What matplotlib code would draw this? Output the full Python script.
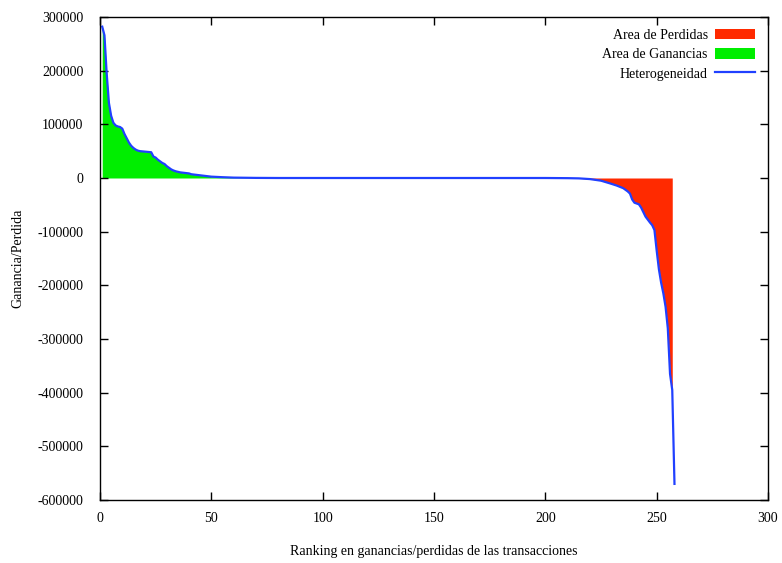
#!/usr/bin/env python3

# Ganancias/perdidas ordenadas por ranking, estilo gnuplot

import numpy as np
import matplotlib.pyplot as plt

plt.rcParams['font.family'] = ['Liberation Serif', 'DejaVu Serif']
plt.rcParams['font.size'] = 10
plt.rcParams['axes.unicode_minus'] = False

# ranking de cada punto (puntos donde cambia la curva)
ranks = np.array([1, 2, 3, 4, 5, 6, 7, 8, 9, 10, 11, 12, 13, 14, 15, 16, 17, 18,
                  23, 24, 25, 26, 27, 28, 29, 30, 31, 32, 33, 34, 35, 36, 38, 40,
                  41, 43, 45, 48, 50, 55, 60, 70, 80,
                  200, 210, 215, 220, 225, 229, 232, 235, 237, 238, 239, 240, 242,
                  243, 245, 247, 248, 249, 250, 251, 252, 253, 254, 255, 256, 257, 258])

# ganancia/perdida de cada transaccion
values = np.array([282000, 266000, 195000, 140000, 116000, 103000, 98000, 96000,
                   95000, 92000, 82000, 74000, 66000, 60000, 56000, 53000, 51000,
                   50000, 48000, 40000, 38000, 34000, 31000, 28000, 26000, 22000,
                   19000, 16000, 14000, 12500, 11500, 10500, 9500, 8500, 7000,
                   6000, 5000, 3500, 2500, 1500, 700, 200, 0,
                   0, -300, -700, -2000, -5000, -10000, -14000, -19000, -25000,
                   -29000, -40000, -46000, -49000, -55000, -72000, -83000, -88000,
                   -97000, -135000, -170000, -195000, -215000, -240000, -280000,
                   -365000, -395000, -570000])

labels = ['Area de Perdidas', 'Area de Ganancias', 'Heterogeneidad']
colors = ['#ff2a00', '#00ee00', '#2040ff']

fig = plt.figure(figsize=(7.82, 5.63), dpi=100)
ax = fig.add_axes([100/782, 1 - 500/563, 668/782, 483/563])

# area de perdidas (sin el ultimo punto)
red = ax.fill_between(ranks[:-1], values[:-1], 0, where=values[:-1] <= 0,
                      interpolate=True, color=colors[0], lw=0, label=labels[0])
green = ax.fill_between(ranks, values, 0, where=values >= 0,
                        interpolate=True, color=colors[1], lw=0, label=labels[1])
line, = ax.plot(ranks, values, color=colors[2], lw=1.6, label=labels[2])

ax.set_xlim(0, 300)
ax.set_ylim(-600000, 300000)
ax.set_xticks(np.arange(0, 301, 50))
ax.set_yticks(np.arange(-600000, 300001, 100000))
ax.tick_params(direction='in', length=6, width=1, top=True, right=True,
               labelsize=10)
ax.tick_params(axis='x', pad=9)
ax.tick_params(axis='y', pad=12)
for s in ax.spines.values():
    s.set_linewidth(1)

ax.set_xlabel('Ranking en ganancias/perdidas de las transacciones', labelpad=14)
ax.set_ylabel('Ganancia/Perdida', labelpad=9)

ax.legend(handles=[red, green, line], loc='upper right',
          bbox_to_anchor=(0.9805, 0.976), frameon=False, markerfirst=False,
          borderpad=0, borderaxespad=0, handlelength=2.9, handleheight=0.8,
          handletextpad=0.5, labelspacing=0.45, fontsize=10)

fig.savefig('out.png', dpi=100)
